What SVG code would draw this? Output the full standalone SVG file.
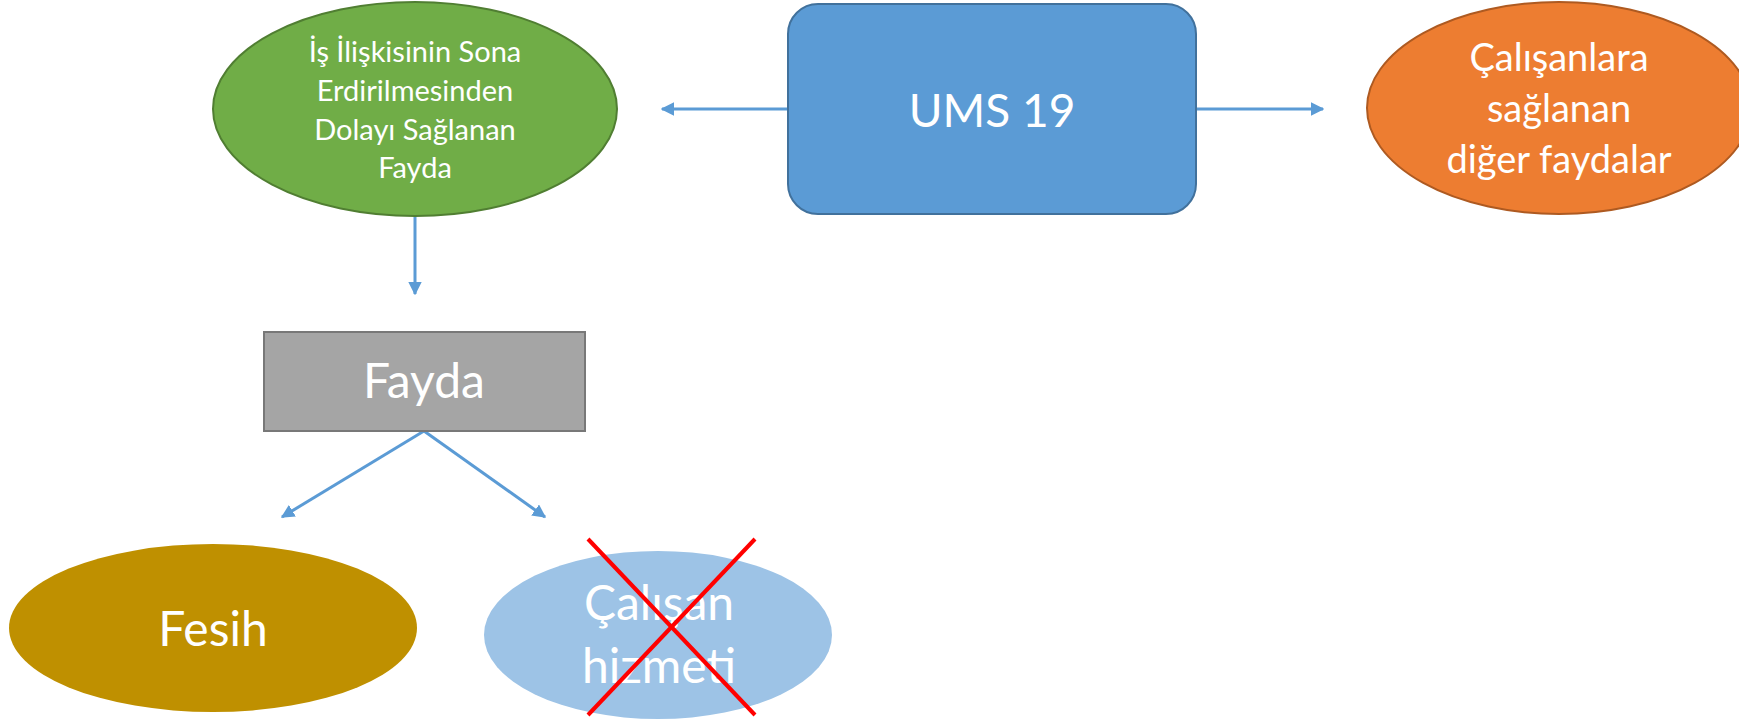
<svg xmlns="http://www.w3.org/2000/svg" width="1739" height="721" viewBox="0 0 1739 721">
<style>
text{font-family:Lato,"Open Sans","Liberation Sans",sans-serif;fill:#fff;text-anchor:middle}
.conn{stroke:#5B9BD5;stroke-width:3;fill:none;marker-end:url(#arr)}
</style>
<defs>
<marker id="arr" viewBox="0 0 10 10" refX="9" refY="5" markerWidth="4.5" markerHeight="4.5" orient="auto" markerUnits="strokeWidth">
<path d="M0,0 L10,5 L0,10 z" fill="#5B9BD5"/>
</marker>
</defs>
<rect width="1739" height="721" fill="#fff"/>
<g id="connectors">
<line class="conn" x1="415" y1="216" x2="415" y2="294"/>
<line class="conn" x1="788" y1="109" x2="662" y2="109"/>
<line class="conn" x1="1196" y1="109" x2="1323" y2="109"/>
<line class="conn" x1="424" y1="431" x2="282" y2="517"/>
<line class="conn" x1="424" y1="431" x2="545" y2="517"/>
</g>
<g id="node-green">
<ellipse cx="415" cy="109" rx="202" ry="107" fill="#70AD47" stroke="#507E32" stroke-width="2"/>
<text font-size="29"><tspan x="415" y="62">İş İlişkisinin Sona</tspan><tspan x="415" y="101">Erdirilmesinden</tspan><tspan x="415" y="140">Dolayı Sağlanan</tspan><tspan x="415" y="178">Fayda</tspan></text>
</g>
<g id="node-ums">
<rect x="788" y="4" width="408" height="210" rx="30" fill="#5B9BD5" stroke="#41719C" stroke-width="2"/>
<text x="992" y="127" font-size="46">UMS 19</text>
</g>
<g id="node-orange">
<ellipse cx="1559" cy="108" rx="192" ry="106" fill="#ED7D31" stroke="#AE5A21" stroke-width="2"/>
<text font-size="38"><tspan x="1559" y="71">Çalışanlara</tspan><tspan x="1559" y="122">sağlanan</tspan><tspan x="1559" y="173">diğer faydalar</tspan></text>
</g>
<g id="node-fayda">
<rect x="264" y="332" width="321" height="99" fill="#A5A5A5" stroke="#787878" stroke-width="2"/>
<text x="424" y="398" font-size="48">Fayda</text>
</g>
<g id="node-fesih">
<ellipse cx="213" cy="628" rx="204" ry="84" fill="#BF9000"/>
<text x="213" y="646" font-size="48">Fesih</text>
</g>
<g id="node-calisan">
<ellipse cx="658" cy="635" rx="174" ry="84" fill="#9DC3E6"/>
<text font-size="48"><tspan x="659" y="620">Çalışan</tspan><tspan x="659" y="683">hizmeti</tspan></text>
<line x1="588" y1="539" x2="755" y2="715" stroke="#FF0000" stroke-width="4"/>
<line x1="755" y1="539" x2="588" y2="715" stroke="#FF0000" stroke-width="4"/>
</g>
</svg>
